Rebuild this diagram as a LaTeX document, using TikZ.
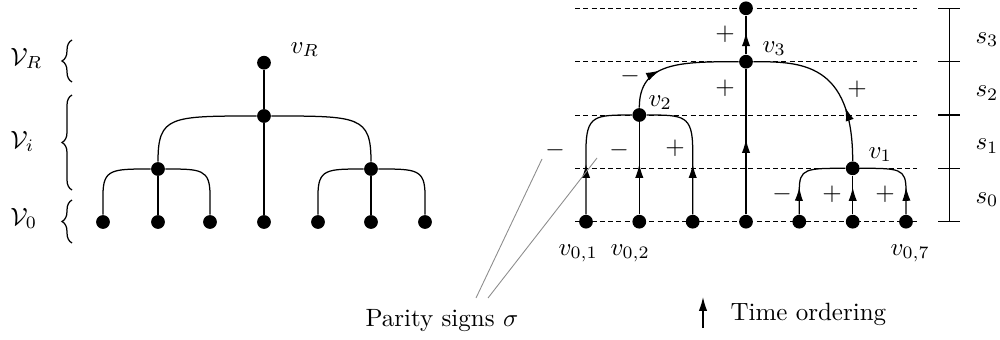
\documentclass[tikz,border=0pt]{standalone}
\usetikzlibrary{arrows.meta,decorations.markings,decorations.pathreplacing}
\begin{document}
\begin{tikzpicture}[x=0.4pt,y=-0.4pt,
  dot/.style={circle,fill=black,inner sep=0pt,minimum size=5.5pt},
  edge/.style={line width=0.5pt},
  tarr/.style={postaction={decorate},decoration={markings,mark=at position #1 with {\arrow{Latex[length=5.5pt,width=3.3pt]}}}},
  lvl/.style={line width=0.4pt,dash pattern=on 2pt off 1.3pt},
  sgn/.style={inner sep=0pt},
  lab/.style={inner sep=0pt,anchor=base west},
  brc/.style={line width=0.5pt,decorate,decoration={brace,amplitude=4pt}},
  pointer/.style={black!45,line width=0.35pt}]
\useasboundingbox (0,0) rectangle (1000,340);

% ---------------- left tree ----------------
\node[lab] (VR) at (10,65) {$\mathcal{V}_R$};
\node[lab] (Vi) at (10,148) {$\mathcal{V}_i$};
\node[lab] (V0) at (10,225) {$\mathcal{V}_0$};
\draw[brc] (72,82) -- (72,40);
\draw[brc] (72,190) -- (72,95);
\draw[brc] (72,243) -- (72,200);

\node[dot] (L1) at (103,222) {};
\node[dot] (L2) at (158,222) {};
\node[dot] (L3) at (210,222) {};
\node[dot] (L4) at (264,222) {};
\node[dot] (L5) at (318,222) {};
\node[dot] (L6) at (371,222) {};
\node[dot] (L7) at (425,222) {};
\node[dot] (A) at (158,169) {};
\node[dot] (B) at (371,169) {};
\node[dot] (M) at (264,116) {};
\node[dot] (R) at (264,62.7) {};
\node[lab] (vR) at (290,53) {$v_R$};

\draw[edge] (L1) -- (103,195) .. controls (103,169) and (112,169) .. (A);
\draw[edge] (L2) -- (A);
\draw[edge] (L3) -- (210,195) .. controls (210,169) and (201,169) .. (A);
\draw[edge] (L5) -- (318,195) .. controls (318,169) and (327,169) .. (B);
\draw[edge] (L6) -- (B);
\draw[edge] (L7) -- (425,195) .. controls (425,169) and (416,169) .. (B);
\draw[edge] (L4) -- (M);
\draw[edge] (M) -- (R);
\draw[edge] (A) .. controls (158,116) and (170,116) .. (M);
\draw[edge] (B) .. controls (371,116) and (359,116) .. (M);

% ---------------- right tree ----------------
\foreach \y in {8.3,61.7,115,168.3,221.7}
  \draw[lvl] (575,\y) -- (917,\y);

\node[dot] (P1) at (586,221.7) {};
\node[dot] (P2) at (639.3,221.7) {};
\node[dot] (P3) at (692.7,221.7) {};
\node[dot] (P4) at (746,221.7) {};
\node[dot] (P5) at (799.3,221.7) {};
\node[dot] (P6) at (852.7,221.7) {};
\node[dot] (P7) at (906,221.7) {};
\node[dot] (V2) at (639.3,115) {};
\node[dot] (V1) at (852.7,168.3) {};
\node[dot] (V3) at (746,61.7) {};
\node[dot] (T) at (746,8.3) {};

\draw[edge,tarr=20.1pt] (P1) -- (586,150) .. controls (586,115) and (595,115) .. (V2);
\draw[edge,tarr=20.1pt] (P2) -- (V2);
\draw[edge,tarr=20.1pt] (P3) -- (692.7,150) .. controls (692.7,115) and (683.7,115) .. (V2);
\draw[edge,tarr=30.1pt] (P4) -- (V3);
\draw[edge,tarr=8.8pt] (V3) -- (T);
\draw[edge,tarr=18pt] (V2) .. controls (639.3,62) and (680,61.7) .. (V3);
\draw[edge,tarr=21.8pt] (V1) .. controls (852.7,61.7) and (800,61.7) .. (V3);
\draw[edge,tarr=10.9pt] (P5) -- (799.3,190) .. controls (799.3,168.3) and (806,168.3) .. (V1);
\draw[edge,tarr=10.9pt] (P6) -- (V1);
\draw[edge,tarr=10.9pt] (P7) -- (906,190) .. controls (906,168.3) and (899.4,168.3) .. (V1);

\node[lab] (v3) at (762,52) {$v_3$};
\node[lab] (v2) at (648,106) {$v_2$};
\node[lab] (v1) at (868,158) {$v_1$};
\node[lab] (v01) at (558,255) {$v_{0,1}$};
\node[lab] (v02) at (610,255) {$v_{0,2}$};
\node[lab] (v07) at (890,255) {$v_{0,7}$};

% signs
\node[sgn] (sg1) at (725,34) {$+$};
\node[sgn] (sg2) at (725,88) {$+$};
\node[sgn] (sg3) at (630,76) {$-$};
\node[sgn] (sg4) at (555,150) {$-$};
\node[sgn] (sg5) at (619,150) {$-$};
\node[sgn] (sg6) at (675,148) {$+$};
\node[sgn] (sg7) at (857,89) {$+$};
\node[sgn] (sg8) at (782,194) {$-$};
\node[sgn] (sg9) at (832,194) {$+$};
\node[sgn] (sg10) at (885,194) {$+$};

% scale bar
\coordinate (sb0) at (949.3,221.7);
\coordinate (sb4) at (949.3,8.3);
\draw[edge] (sb0) -- (sb4);
\foreach \y in {8.3,61.7,115,168.3,221.7}
  \draw[edge] (938,\y) -- (960,\y);
\node[lab] (s3) at (975,43) {$s_3$};
\node[lab] (s2) at (975,96.3) {$s_2$};
\node[lab] (s1) at (975,149.7) {$s_1$};
\node[lab] (s0) at (975,203) {$s_0$};

% legend
\node[lab] (par) at (365,326) {Parity signs $\sigma$};
\coordinate (g1a) at (476,298);
\coordinate (g1b) at (542,159);
\coordinate (g2a) at (488,298);
\coordinate (g2b) at (597,158);
\draw[pointer] (g1a) -- (g1b);
\draw[pointer] (g2a) -- (g2b);

\node[lab] (tim) at (730,320) {Time ordering};
\coordinate (ta) at (703,328);
\coordinate (tb) at (703,297);
\draw[edge,-{Latex[length=5.5pt,width=3.3pt]}] (ta) -- (tb);
\end{tikzpicture}
\end{document}
